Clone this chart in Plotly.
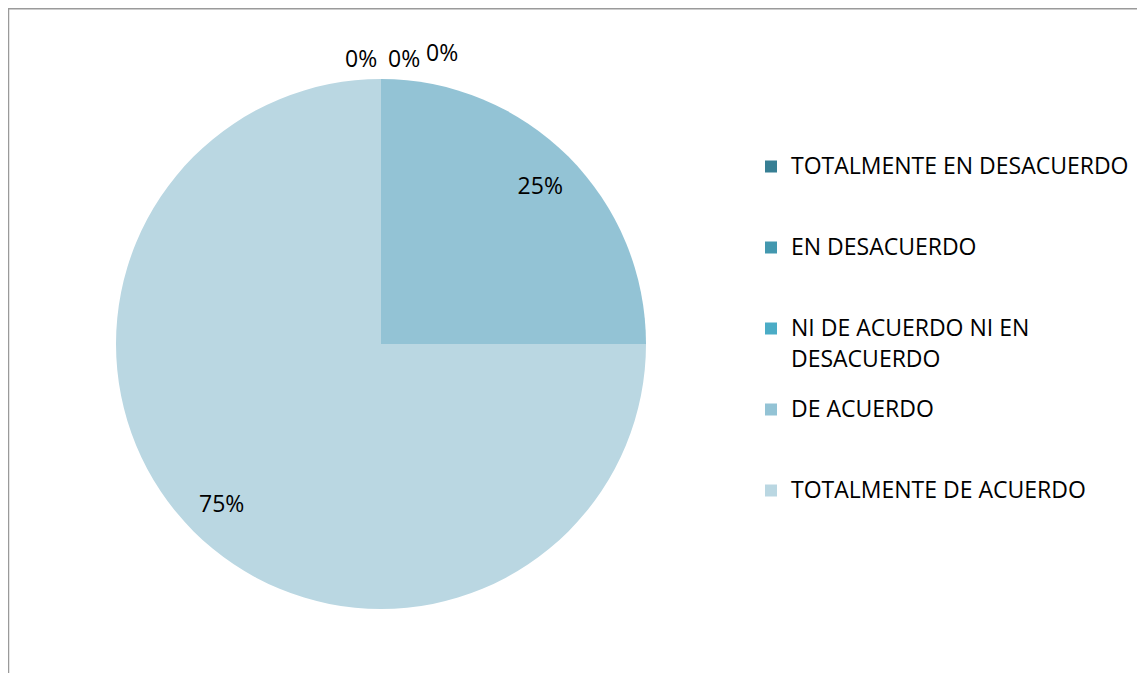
import plotly.graph_objects as go

categories = ["TOTALMENTE EN DESACUERDO", "EN DESACUERDO", "NI DE ACUERDO NI EN DESACUERDO",
              "DE ACUERDO", "TOTALMENTE DE ACUERDO"]
legend_lines = [["TOTALMENTE EN DESACUERDO"], ["EN DESACUERDO"], ["NI DE ACUERDO NI EN", "DESACUERDO"],
                ["DE ACUERDO"], ["TOTALMENTE DE ACUERDO"]]
values = [0, 0, 0, 25, 75]
colors = ["#377F94", "#4398AF", "#4BACC6", "#93C3D5", "#BAD7E2"]

OFF = 8  # page body margin
W, H = 1137, 665
font_family = "'Open Sans', sans-serif"
TXT = 23


def px_x(x):
    return (x - OFF) / W


def px_y(y):
    return 1 - (y - OFF) / H


def legend_name(lines, last):
    parts = []
    for j, l in enumerate(lines):
        span = '<span style="font-size:%dpx">%s</span>' % (TXT, l)
        if j > 0:
            span = "<sub>" + span + "</sub>"  # small baseline shift for wider line gap
        parts.append(span)
    if not last:
        parts += ["&nbsp;"] * (3 - len(lines))
    return "<br>".join(parts)


legend_names = [legend_name(l, i == len(legend_lines) - 1) for i, l in enumerate(legend_lines)]
total = sum(values)

dom = dict(x=[px_x(116), px_x(646)], y=[px_y(609), px_y(79)])

fig = go.Figure()
fig.add_trace(go.Pie(
    labels=legend_names, values=values, sort=False, direction="clockwise", rotation=0,
    marker=dict(colors=colors, line=dict(width=0)),
    textinfo="none", domain=dom, hovertext=categories, hoverinfo="text+percent",
))
fig.add_trace(go.Pie(
    labels=legend_names, values=values, sort=False, direction="clockwise", rotation=0,
    hole=0.7, showlegend=False,
    marker=dict(colors=["rgba(0,0,0,0)"] * 5, line=dict(width=0)),
    texttemplate=["" if v == 0 else "%{percent:.0%}" for v in values],
    textposition="inside",
    insidetextorientation="horizontal",
    textfont=dict(size=TXT, color="#000000", family=font_family),
    domain=dom, hoverinfo="skip",
))

# labels for the zero-valued slices (placed above the 12 o'clock edge, as in the original)
zero_pos = [(361, 58), (404, 58), (442, 52)]
annotations = []
k = 0
for v in values:
    if v == 0 and k < len(zero_pos):
        x, y = zero_pos[k]
        annotations.append(dict(xref="paper", yref="paper", x=px_x(x), y=px_y(y), showarrow=False,
                                text="%d%%" % round(100 * v / total),
                                font=dict(size=TXT, family=font_family, color="#000000"),
                                xanchor="center", yanchor="middle"))
        k += 1

fig.update_layout(
    width=W, height=H,
    margin=dict(l=0, r=0, t=0, b=0),
    paper_bgcolor="white",
    font=dict(family=font_family, size=20, color="#000000"),
    showlegend=True,
    legend=dict(x=px_x(751), y=px_y(147), xanchor="left", yanchor="top",
                valign="top", font=dict(size=20, family=font_family),
                bgcolor="rgba(0,0,0,0)"),
    annotations=annotations,
    shapes=[dict(type="line", xref="paper", yref="paper", x0=0, x1=1, y0=1 - 0.5 / H, y1=1 - 0.5 / H,
                 line=dict(color="#9a9a9a", width=2)),
            dict(type="line", xref="paper", yref="paper", x0=0.5 / W, x1=0.5 / W, y0=0, y1=1,
                 line=dict(color="#9a9a9a", width=1.5))],
)

fig.write_html("out.html")
